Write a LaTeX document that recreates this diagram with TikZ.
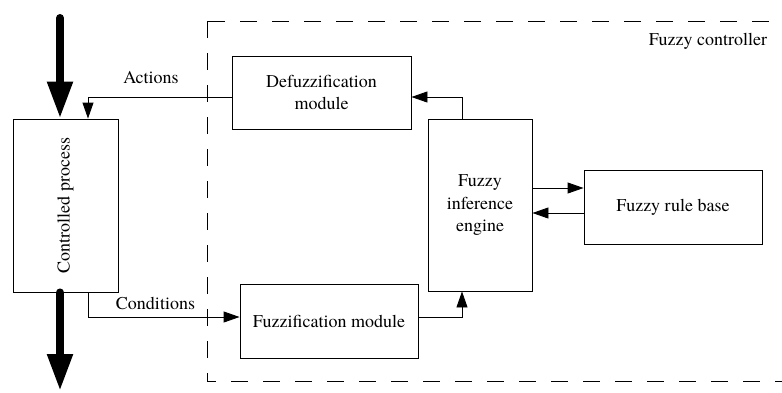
\documentclass[tikz,border=0pt]{standalone}
\usepackage{fontspec}
\setmainfont{TeX Gyre Termes}
\usetikzlibrary{arrows.meta}
\begin{document}
\begin{tikzpicture}[x=1pt,y=-1pt,
  font=\fontsize{18}{22.5}\selectfont,
  block/.style={draw, line width=0.9pt, inner sep=0pt, align=center},
  arr/.style={line width=0.9pt, -{Triangle[length=16pt,width=11pt]}},
  bigarr/.style={line width=8pt, line cap=round, -{Triangle[length=37pt,width=24pt]}},
  frame/.style={draw, line width=1pt, dash pattern=on 17pt off 15pt}]
\clip (0,0) rectangle (782,392);

% fuzzy controller boundary
\draw[frame] (207,21) rectangle (800,381);
\node (fctitle) at (708,41) {Fuzzy controller};

% blocks
\node[block, minimum width=105pt, minimum height=173pt] (proc) at (65.5,205.5) {};
\node[rotate=90] (proctext) at (proc.center) {Controlled process};
\node[block, minimum width=179pt, minimum height=73pt] (defuzz) at (321.5,92.5) {Defuzzification\\module};
\node[block, minimum width=104pt, minimum height=172pt] (infer) at (480,205) {Fuzzy\\inference\\engine};
\node[block, minimum width=178pt, minimum height=74pt] (rules) at (673,207) {Fuzzy rule base};
\node[block, minimum width=178pt, minimum height=74pt] (fuzz) at (329,321) {Fuzzification module};

% turning points of the connectors
\coordinate (act) at (88,97);
\coordinate (cond) at (88,317);
\coordinate (fout) at (462,317);
\coordinate (iout) at (462,97);
\coordinate (tofrb) at (0,188);
\coordinate (fromrb) at (0,213);
\coordinate (inflow) at (60,18);
\coordinate (outflow) at (60,391);

% process input and output
\draw[bigarr] (inflow) -- (proc.north -| inflow);
\draw[bigarr] (proc.south -| inflow) -- (outflow);

% signal flow
\draw[arr] (defuzz.west |- act) -| (proc.north -| act);
\node (actlabel) at (151,78) {Actions};
\draw[arr] (proc.south -| cond) |- (fuzz.west |- cond);
\node (condlabel) at (155.5,303) {Conditions};
\draw[arr] (fuzz.east |- fout) -| (infer.south -| fout);
\draw[arr] (infer.north -| iout) |- (defuzz.east |- iout);
\draw[arr] (infer.east |- tofrb) -- (rules.west |- tofrb);
\draw[arr] (rules.west |- fromrb) -- (infer.east |- fromrb);
\end{tikzpicture}
\end{document}
